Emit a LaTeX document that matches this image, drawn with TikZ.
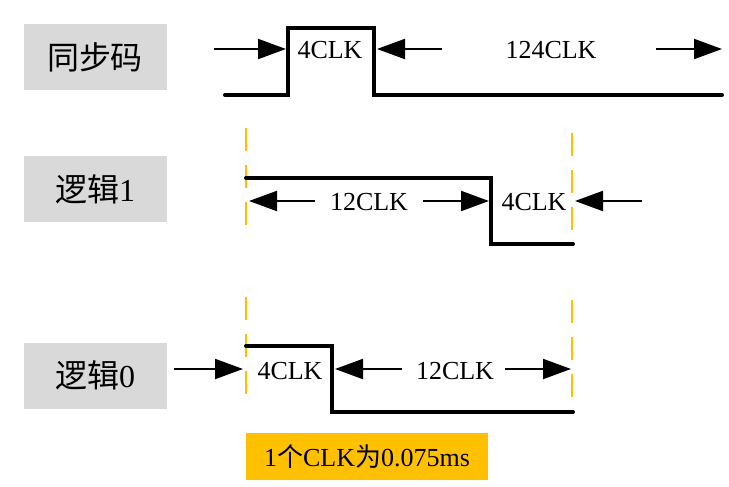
\documentclass[tikz,border=0pt]{standalone}
\usepackage{fontspec}
\setmainfont{Liberation Serif}
\newfontfamily\cjk{Noto Sans CJK SC}
\usetikzlibrary{arrows.meta}
\definecolor{boxgray}{HTML}{D9D9D9}
\definecolor{gold}{HTML}{FFC000}
\tikzset{
  x=1pt, y=-1pt,
  labelbox/.style={fill=boxgray, minimum width=143pt, minimum height=66pt, inner sep=0pt,
    font=\fontsize{32}{32}\selectfont},
  sig/.style={line width=4pt, line cap=round, line join=miter},
  guide/.style={gold, line width=2.5pt, dash pattern=on 23pt off 14pt},
  dim/.style={line width=2pt, -{Triangle[length=28pt,width=20pt]}},
  clk/.style={font=\fontsize{26}{26}\selectfont, inner sep=0pt},
  notebox/.style={fill=gold, minimum width=242pt, minimum height=47pt, inner sep=0pt,
    font=\fontsize{26}{26}\selectfont}
}
\begin{document}
\begin{tikzpicture}
\useasboundingbox (0,0) rectangle (729,487);
% Row 1
\node[labelbox] (b1) at (95,57) {\cjk 同步码};
\coordinate (s1a) at (225,95);
\coordinate (s1b) at (288,28);
\coordinate (s1c) at (374,95);
\coordinate (s1d) at (722,95);
\draw[sig] (s1a) -- (s1a -| s1b) -- (s1b) -- (s1b -| s1c) -- (s1c) -- (s1d);
\coordinate (a1t) at (214,49); \coordinate (a1h) at (286,49);
\draw[dim] (a1t) -- (a1h);
\node[clk] (t1) at (330,50) {4CLK};
\coordinate (a2t) at (442,49); \coordinate (a2h) at (377,49);
\draw[dim] (a2t) -- (a2h);
\node[clk] (t2) at (551,50) {124CLK};
\coordinate (a3t) at (656,49); \coordinate (a3h) at (722,49);
\draw[dim] (a3t) -- (a3h);
% Row 2
\node[labelbox] (b2) at (95,189) {\cjk 逻辑\rmfamily 1};
\coordinate (g1a) at (246,128); \coordinate (g1b) at (246,228);
\coordinate (g2a) at (572,133); \coordinate (g2b) at (572,231);
\draw[guide] (g1a) -- (g1b);
\draw[guide] (g2a) -- (g2b);
\coordinate (s2a) at (246,178);
\coordinate (s2b) at (491,244);
\coordinate (s2c) at (573,244);
\draw[sig] (s2a) -- (s2a -| s2b) -- (s2b) -- (s2c);
\coordinate (a4t) at (315,201); \coordinate (a4h) at (249,201);
\draw[dim] (a4t) -- (a4h);
\node[clk] (t3) at (369,202) {12CLK};
\coordinate (a5t) at (423,201); \coordinate (a5h) at (489,201);
\draw[dim] (a5t) -- (a5h);
\node[clk] (t4) at (534,202) {4CLK};
\coordinate (a6t) at (642,201); \coordinate (a6h) at (575,201);
\draw[dim] (a6t) -- (a6h);
% Row 3
\node[labelbox] (b3) at (95,375.5) {\cjk 逻辑\rmfamily 0};
\coordinate (g3a) at (246,297); \coordinate (g3b) at (246,395);
\coordinate (g4a) at (572,300); \coordinate (g4b) at (572,398);
\draw[guide] (g3a) -- (g3b);
\draw[guide] (g4a) -- (g4b);
\coordinate (s3a) at (246,346);
\coordinate (s3b) at (332,412);
\coordinate (s3c) at (573,412);
\draw[sig] (s3a) -- (s3a -| s3b) -- (s3b) -- (s3c);
\coordinate (a7t) at (174,369); \coordinate (a7h) at (243,369);
\draw[dim] (a7t) -- (a7h);
\node[clk] (t5) at (290,371) {4CLK};
\coordinate (a8t) at (402,369); \coordinate (a8h) at (335,369);
\draw[dim] (a8t) -- (a8h);
\node[clk] (t6) at (455,371) {12CLK};
\coordinate (a9t) at (505,369); \coordinate (a9h) at (571,369);
\draw[dim] (a9t) -- (a9h);
% Note
\node[notebox] (note) at (367,456.5) {1{\cjk 个}CLK{\cjk 为}0.075ms};
\end{tikzpicture}
\end{document}
